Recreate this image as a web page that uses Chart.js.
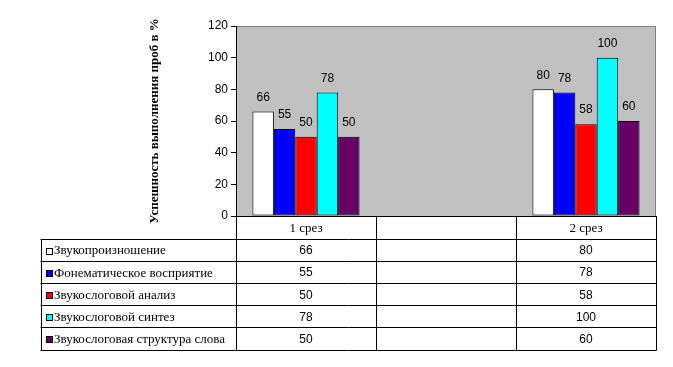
<!DOCTYPE html>
<html>
<head>
<meta charset="utf-8">
<script src="https://cdn.jsdelivr.net/npm/chart.js@4/dist/chart.umd.min.js"></script>
<style>
  html, body { margin: 0; padding: 0; background: #fff; }
  canvas { display: block; }
</style>
</head>
<body>
<canvas id="c" width="673" height="367"></canvas>
<script>
// ---- Data ----
const categories = ['1 срез', '', '2 срез'];
const seriesNames = [
  'Звукопроизношение',
  'Фонематическое восприятие',
  'Звукослоговой анализ',
  'Звукослоговой синтез',
  'Звукослоговая структура слова'
];
const zvukoproiznoshenie = [66, null, 80];
const fonematicheskoe = [55, null, 78];
const analiz = [50, null, 58];
const sintez = [78, null, 100];
const struktura = [50, null, 60];
const yTicks = [0, 20, 40, 60, 80, 100, 120];
const yTitle = 'Успешность выполнения проб в %';

const seriesValues = [zvukoproiznoshenie, fonematicheskoe, analiz, sintez, struktura];
const seriesColors = ['#FFFFFF', '#0000FF', '#FF0000', '#00FFFF', '#660066'];

const SANS = "'Liberation Sans', Arial, sans-serif";
const SERIF = "'Liberation Serif', 'Times New Roman', serif";

const plotBg = {
  id: 'plotBg',
  beforeDraw(chart) {
    const {ctx, chartArea: a} = chart;
    ctx.save();
    ctx.fillStyle = '#C0C0C0';
    ctx.fillRect(a.left, a.top, a.right - a.left, a.bottom - a.top);
    ctx.strokeStyle = '#808080';
    ctx.lineWidth = 1;
    ctx.beginPath();
    ctx.moveTo(a.left, a.top + 0.5);
    ctx.lineTo(a.right - 0.5, a.top + 0.5);
    ctx.lineTo(a.right - 0.5, a.bottom);
    ctx.stroke();
    ctx.restore();
  }
};

const valueLabels = {
  id: 'valueLabels',
  afterDatasetsDraw(chart) {
    const {ctx} = chart;
    ctx.save();
    ctx.font = '12px ' + SANS;
    ctx.fillStyle = '#000';
    ctx.textAlign = 'center';
    ctx.textBaseline = 'middle';
    chart.data.datasets.forEach((ds, i) => {
      const meta = chart.getDatasetMeta(i);
      meta.data.forEach((el, j) => {
        const v = ds.data[j];
        if (v === null || v === undefined) return;
        ctx.fillText(String(v), el.x, el.y - 14);
      });
    });
    ctx.restore();
  }
};

const dataTable = {
  id: 'dataTable',
  afterDraw(chart) {
    const {ctx, chartArea: a} = chart;
    const xs = chart.scales.x;
    const n = categories.length;
    const colW = (a.right - a.left) / n;
    const tableLeft = 40.5;
    const headerTop = a.bottom;
    const headerBottom = 239;
    const rowH = 22.1;
    const rows = seriesNames.length;
    const tableBottom = headerBottom + rowH * rows;
    const crisp = v => Math.round(v) + 0.5;

    ctx.save();
    ctx.strokeStyle = '#000';
    ctx.lineWidth = 1;
    ctx.beginPath();
    ctx.moveTo(a.left, crisp(headerTop - 0.5));
    ctx.lineTo(a.right + 0.5, crisp(headerTop - 0.5));
    for (let r = 0; r <= rows; r++) {
      const y = crisp(headerBottom + rowH * r);
      ctx.moveTo(tableLeft, y);
      ctx.lineTo(a.right + 0.5, y);
    }
    for (let c = 0; c <= n; c++) {
      const x = crisp(a.left + colW * c - 0.5);
      ctx.moveTo(x, headerTop);
      ctx.lineTo(x, crisp(tableBottom));
    }
    ctx.moveTo(crisp(tableLeft), crisp(headerBottom));
    ctx.lineTo(crisp(tableLeft), crisp(tableBottom));
    ctx.stroke();

    ctx.fillStyle = '#000';
    ctx.textAlign = 'center';
    ctx.textBaseline = 'middle';
    ctx.font = '13px ' + SERIF;
    categories.forEach((cat, j) => {
      const cx = xs.getPixelForValue(j);
      ctx.fillText(cat, cx, (headerTop + headerBottom) / 2 + 1);
    });

    for (let r = 0; r < rows; r++) {
      const cy = headerBottom + rowH * r + rowH / 2 + 1;
      const kx = 46, ks = 7;
      const ky = Math.round(cy - ks / 2);
      ctx.fillStyle = seriesColors[r];
      ctx.fillRect(kx, ky, ks, ks);
      ctx.strokeStyle = '#000';
      ctx.strokeRect(kx + 0.5, ky + 0.5, ks - 1, ks - 1);
      ctx.fillStyle = '#000';
      ctx.textAlign = 'left';
      ctx.font = '13px ' + SERIF;
      ctx.fillText(seriesNames[r], 54, cy);
      ctx.textAlign = 'center';
      ctx.font = '12px ' + SANS;
      seriesValues[r].forEach((v, j) => {
        if (v === null || v === undefined) return;
        ctx.fillText(String(v), xs.getPixelForValue(j), cy);
      });
    }
    ctx.restore();
  }
};

new Chart(document.getElementById('c'), {
  type: 'bar',
  data: {
    labels: categories,
    datasets: seriesNames.map((name, i) => ({
      label: name,
      data: seriesValues[i],
      backgroundColor: seriesColors[i],
      borderColor: '#000',
      borderWidth: 1,
      borderSkipped: false,
      categoryPercentage: 0.765,
      barPercentage: 1.0
    }))
  },
  options: {
    responsive: false,
    animation: false,
    events: [],
    layout: { padding: { left: 140, right: 17, top: 26, bottom: 151 } },
    plugins: {
      legend: { display: false },
      tooltip: { enabled: false },
      title: { display: false }
    },
    scales: {
      x: {
        display: false,
        offset: true
      },
      y: {
        min: 0,
        max: 120,
        afterBuildTicks(scale) {
          scale.ticks = yTicks.map(v => ({ value: v }));
        },
        afterFit(scale) { scale.width = 96; },
        ticks: {
          color: '#000',
          font: { family: SANS, size: 12 },
          padding: 3
        },
        grid: {
          drawOnChartArea: false,
          drawTicks: true,
          tickLength: 5,
          color: '#000'
        },
        border: { display: true, color: '#000', width: 1 },
        title: {
          display: true,
          text: yTitle,
          color: '#000',
          font: { family: SERIF, size: 13, weight: 'bold' },
          padding: { top: 7, bottom: 0 }
        }
      }
    }
  },
  plugins: [plotBg, valueLabels, dataTable]
});
</script>
</body>
</html>
